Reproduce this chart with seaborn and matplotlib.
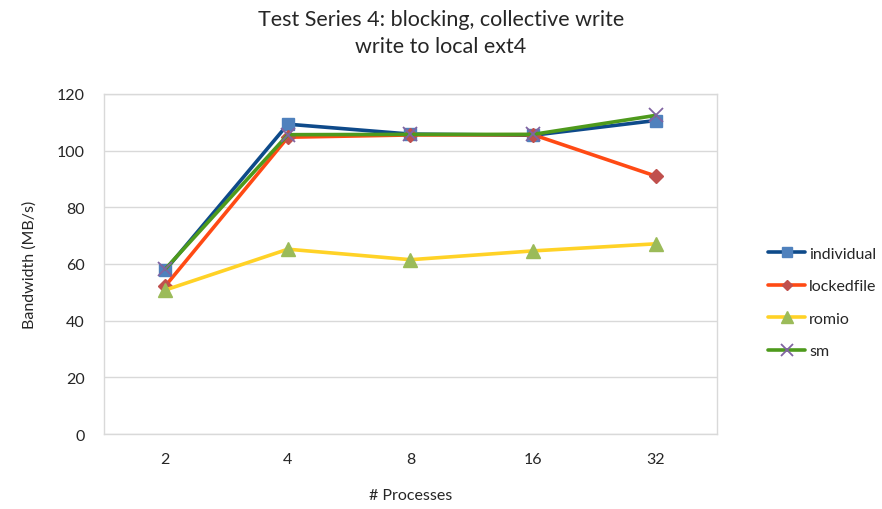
import matplotlib
matplotlib.use("Agg")
import matplotlib.pyplot as plt
import seaborn as sns
import pandas as pd
from matplotlib.lines import Line2D

# Benchmark results: write bandwidth per process count
processes = ["2", "4", "8", "16", "32"]
individual = [57.8, 109.3, 105.8, 105.4, 110.6]
lockedfile = [52.2, 104.7, 105.5, 105.6, 91.0]
romio = [50.8, 65.2, 61.5, 64.6, 67.1]
sm = [58.2, 105.6, 105.7, 105.7, 112.4]

series_names = ["individual", "lockedfile", "romio", "sm"]
series_values = [individual, lockedfile, romio, sm]

styles = {
    "individual": dict(line="#0E4A8A", marker="s", mface="#4F81BD", medge="#4F81BD", ms=9, mew=1),
    "lockedfile": dict(line="#FF4A14", marker="D", mface="#C0504D", medge="#C0504D", ms=7, mew=1),
    "romio": dict(line="#FFD226", marker="^", mface="#9BBB59", medge="#9BBB59", ms=10, mew=1),
    "sm": dict(line="#4E9A1C", marker="x", mface="#8064A2", medge="#8064A2", ms=10, mew=1.3),
}

rows = []
for name, vals in zip(series_names, series_values):
    for i, (p, v) in enumerate(zip(processes, vals)):
        rows.append({"series": name, "pos": i, "processes": p, "bandwidth": v})
df = pd.DataFrame(rows)

sns.set_theme(style="white")
plt.rcParams["font.family"] = ["Lato", "DejaVu Sans"]

fig = plt.figure(figsize=(8.82, 5.10), dpi=100)
ax = fig.add_axes([0.1179, 0.147, 0.695, 0.667])

handles = []
for name in series_names:
    st = styles[name]
    sub = df[df["series"] == name]
    sns.lineplot(
        data=sub, x="pos", y="bandwidth", ax=ax,
        color=st["line"], linewidth=2.6,
        marker=st["marker"], markersize=st["ms"],
        markerfacecolor=st["mface"], markeredgecolor=st["medge"],
        markeredgewidth=st["mew"], legend=False,
    )
    handles.append(Line2D([], [], color=st["line"], linewidth=2.6,
                          marker=st["marker"], markersize=st["ms"] * 0.8,
                          markerfacecolor=st["mface"], markeredgecolor=st["medge"],
                          markeredgewidth=st["mew"], label=name))

ax.set_xlim(-0.5, len(processes) - 0.5)
ax.set_ylim(0, 120)
ax.set_yticks(range(0, 121, 20))
ax.set_xticks(range(len(processes)))
ax.set_xticklabels(processes)
ax.grid(axis="y", color="#D9D9D9", linewidth=1)
ax.set_axisbelow(True)
for sp in ax.spines.values():
    sp.set_visible(True)
    sp.set_color("#D9D9D9")
    sp.set_linewidth(1)
ax.tick_params(axis="both", length=0, labelsize=11.5, colors="#262626")
ax.tick_params(axis="x", pad=13)
ax.tick_params(axis="y", pad=14)

ax.set_xlabel("# Processes", fontsize=11.5, color="#262626", labelpad=16)
ax.set_ylabel("Bandwidth (MB/s)", fontsize=11.5, color="#262626", labelpad=14)

fig.suptitle("Test Series 4: blocking, collective write\nwrite to local ext4",
             x=0.5, y=0.98, fontsize=15.5, color="#262626", linespacing=1.45)

fig.legend(handles=handles, loc="center left", bbox_to_anchor=(0.855, 0.405),
           frameon=False, fontsize=11.5, handlelength=2.3, handletextpad=0.25,
           labelspacing=1.15, labelcolor="#262626")

fig.savefig("out.png", dpi=100)
